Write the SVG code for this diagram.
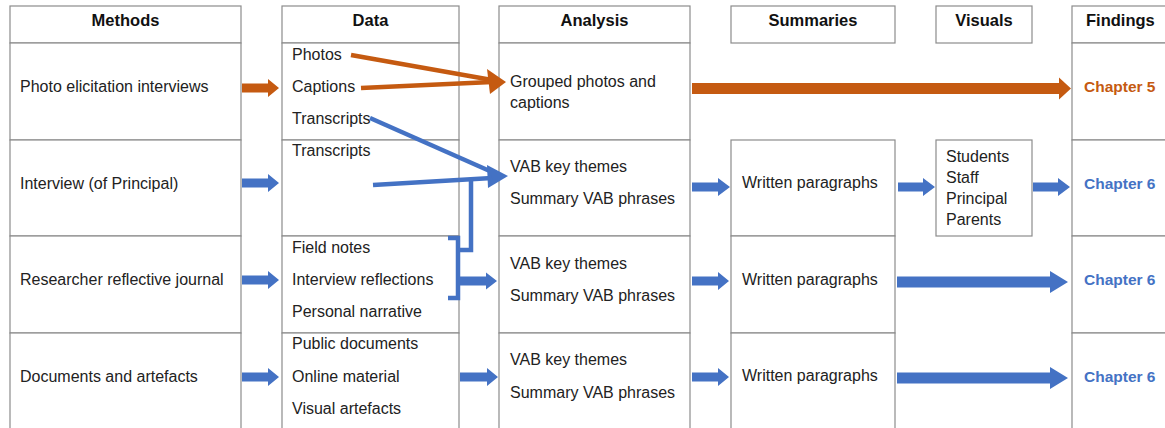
<svg xmlns="http://www.w3.org/2000/svg" width="1165" height="428" viewBox="0 0 1165 428">
<style>
.c{fill:#fff;stroke:#8c8c8c;stroke-width:1.2}
.t{font-family:"Liberation Sans",Arial,sans-serif;font-size:16px;fill:#222}
.h{font-family:"Liberation Sans",Arial,sans-serif;font-size:16.5px;font-weight:bold;fill:#111}
.ch{font-family:"Liberation Sans",Arial,sans-serif;font-size:15.5px;font-weight:bold}
.o{fill:#C55A11}
.b{fill:#4472C4}
.ol{stroke:#C55A11;stroke-width:4.5;fill:none}
.bl{stroke:#4472C4;stroke-width:4.5;fill:none}
</style>
<rect width="1165" height="428" fill="#fff"/>
<g id="methods">
<rect class="c" x="10" y="6" width="231" height="37"/>
<rect class="c" x="10" y="43" width="231" height="97"/>
<rect class="c" x="10" y="140" width="231" height="96"/>
<rect class="c" x="10" y="236" width="231" height="97"/>
<rect class="c" x="10" y="333" width="231" height="110"/>
<text class="h" x="125.5" y="26" text-anchor="middle">Methods</text>
<text class="t" x="20" y="92">Photo elicitation interviews</text>
<text class="t" x="20" y="189">Interview (of Principal)</text>
<text class="t" x="20" y="285">Researcher reflective journal</text>
<text class="t" x="20" y="382">Documents and artefacts</text>
</g>
<g id="data">
<rect class="c" x="282" y="6" width="177" height="37"/>
<rect class="c" x="282" y="43" width="177" height="97"/>
<rect class="c" x="282" y="140" width="177" height="96"/>
<rect class="c" x="282" y="236" width="177" height="97"/>
<rect class="c" x="282" y="333" width="177" height="110"/>
<text class="h" x="370.5" y="26" text-anchor="middle">Data</text>
<text class="t" x="292" y="60">Photos</text>
<text class="t" x="292" y="92">Captions</text>
<text class="t" x="292" y="124">Transcripts</text>
<text class="t" x="292" y="156">Transcripts</text>
<text class="t" x="292" y="253">Field notes</text>
<text class="t" x="292" y="285">Interview reflections</text>
<text class="t" x="292" y="317">Personal narrative</text>
<text class="t" x="292" y="349">Public documents</text>
<text class="t" x="292" y="382">Online material</text>
<text class="t" x="292" y="414">Visual artefacts</text>
</g>
<g id="analysis">
<rect class="c" x="499" y="6" width="191" height="37"/>
<rect class="c" x="499" y="43" width="191" height="97"/>
<rect class="c" x="499" y="140" width="191" height="96"/>
<rect class="c" x="499" y="236" width="191" height="97"/>
<rect class="c" x="499" y="333" width="191" height="110"/>
<text class="h" x="594.5" y="26" text-anchor="middle">Analysis</text>
<text class="t" x="510" y="87">Grouped photos and</text>
<text class="t" x="510" y="108">captions</text>
<text class="t" x="510" y="172">VAB key themes</text>
<text class="t" x="510" y="204">Summary VAB phrases</text>
<text class="t" x="510" y="269">VAB key themes</text>
<text class="t" x="510" y="301">Summary VAB phrases</text>
<text class="t" x="510" y="365">VAB key themes</text>
<text class="t" x="510" y="398">Summary VAB phrases</text>
</g>
<g id="summaries">
<rect class="c" x="731" y="6" width="164" height="37"/>
<rect class="c" x="731" y="140" width="164" height="96"/>
<rect class="c" x="731" y="236" width="164" height="97"/>
<rect class="c" x="731" y="333" width="164" height="110"/>
<text class="h" x="813" y="26" text-anchor="middle">Summaries</text>
<text class="t" x="742" y="188">Written paragraphs</text>
<text class="t" x="742" y="285">Written paragraphs</text>
<text class="t" x="742" y="381">Written paragraphs</text>
</g>
<g id="visuals">
<rect class="c" x="936" y="6" width="96" height="37"/>
<rect class="c" x="936" y="140" width="96" height="96"/>
<text class="h" x="984" y="26" text-anchor="middle">Visuals</text>
<text class="t" x="946" y="162">Students</text>
<text class="t" x="946" y="183">Staff</text>
<text class="t" x="946" y="204">Principal</text>
<text class="t" x="946" y="225">Parents</text>
</g>
<g id="findings">
<rect class="c" x="1072" y="6" width="100" height="37"/>
<rect class="c" x="1072" y="43" width="100" height="97"/>
<rect class="c" x="1072" y="140" width="100" height="96"/>
<rect class="c" x="1072" y="236" width="100" height="97"/>
<rect class="c" x="1072" y="333" width="100" height="110"/>
<text class="h" x="1086" y="26">Findings</text>
<text class="ch o" x="1084" y="92">Chapter 5</text>
<text class="ch b" x="1084" y="189">Chapter 6</text>
<text class="ch b" x="1084" y="285">Chapter 6</text>
<text class="ch b" x="1084" y="382">Chapter 6</text>
</g>
<g id="connectors">
<polygon class="o" points="242,83.5 268,83.5 268,79 279,88 268,97 268,92.5 242,92.5"/>
<polygon class="o" points="692,83 1059,83 1059,77.5 1071,88.5 1059,99.5 1059,94 692,94"/>
<line class="ol" x1="351" y1="55" x2="492" y2="80"/>
<line class="ol" x1="361" y1="88" x2="492" y2="82"/>
<polygon class="o" points="487,69 506,82 490,94"/>
<line class="bl" x1="370" y1="118" x2="492" y2="172"/>
<polygon class="b" points="487,165 508,176 488,188"/>
<line class="bl" x1="373" y1="185" x2="492" y2="178"/>
<path class="bl" d="M448,238 H458 V298 H448"/>
<path class="bl" d="M458,250 H471 V178"/>
<polygon class="b" points="242,178.5 268,178.5 268,174 279,183 268,192 268,187.5 242,187.5"/>
<polygon class="b" points="692,182.5 718,182.5 718,178 730,187 718,196 718,191.5 692,191.5"/>
<polygon class="b" points="898,182.5 923,182.5 923,178 935,187 923,196 923,191.5 898,191.5"/>
<polygon class="b" points="1033,182.5 1058,182.5 1058,178 1070,187 1058,196 1058,191.5 1033,191.5"/>
<polygon class="b" points="242,275.5 268,275.5 268,271 279,280 268,289 268,284.5 242,284.5"/>
<polygon class="b" points="458,276.5 486,276.5 486,272.5 497,281 486,289.5 486,285.5 458,285.5"/>
<polygon class="b" points="692,276.5 718,276.5 718,272 729,281 718,290 718,285.5 692,285.5"/>
<polygon class="b" points="897,276.5 1050,276.5 1050,271 1068,282 1050,293 1050,287.5 897,287.5"/>
<polygon class="b" points="242,372.5 268,372.5 268,368 279,377 268,386 268,381.5 242,381.5"/>
<polygon class="b" points="460,372.5 487,372.5 487,368 498,377 487,386 487,381.5 460,381.5"/>
<polygon class="b" points="692,372.5 718,372.5 718,368 729,377 718,386 718,381.5 692,381.5"/>
<polygon class="b" points="897,372.5 1050,372.5 1050,367 1068,378 1050,389 1050,383.5 897,383.5"/>
</g>
</svg>
